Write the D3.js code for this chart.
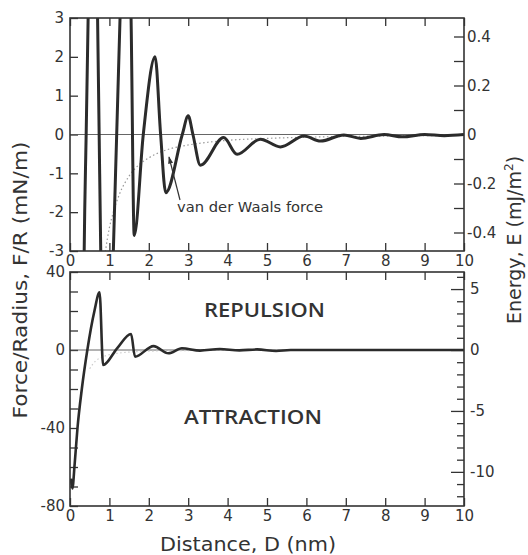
<!DOCTYPE html>
<html>
<head>
<meta charset="UTF-8">
<script src="https://cdn.jsdelivr.net/npm/d3@7"></script>
<style>
  body { margin: 0; background: #fff; }
  svg { display: block; font-family: "DejaVu Sans", sans-serif; }
  .frame { fill: none; stroke: #333; stroke-width: 1.6px; }
  .tick line { stroke: #333; stroke-width: 1.3px; }
  .tick text { fill: #333; font-size: 15px; font-family: "DejaVu Sans", sans-serif; }
  .domain { display: none; }
  .zero { stroke: #555; stroke-width: 0.9px; }
  .force { fill: none; stroke: #2b2b2b; stroke-width: 3px; stroke-linejoin: round; }
  .vdw { fill: none; stroke: #999; stroke-width: 1.2px; stroke-dasharray: 1.5 2.5; }
  .label { fill: #333; font-size: 19px; }
  .region { fill: #333; font-family: "Open Sans", sans-serif; font-size: 19px; font-weight: 600; }
</style>
</head>
<body>
<div id="chart"></div>
<script>
// distance ticks (nm)
const distTicks = [0, 1, 2, 3, 4, 5, 6, 7, 8, 9, 10];

// top panel: oscillatory force F/R (mN/m)
const topD = [0.28, 0.36, 0.41, 0.46, 0.58, 0.70, 0.74, 0.78, 0.94, 1.10, 1.185, 1.27, 1.42, 1.55, 1.63, 1.86, 2.16, 2.30, 2.43, 2.85, 3.0, 3.12, 3.31, 3.9, 4.24, 4.83, 5.34, 5.94, 6.36, 6.95, 7.38, 7.97, 8.44, 9.0, 9.5, 10];
const topF = [-15, -3, 0, 3, 12, 3, 0, -3, -10, -3, 0, 3, 8, 3, -2.6, 0, 2.0, 0, -1.5, 0, 0.48, 0, -0.79, -0.08, -0.51, -0.12, -0.32, -0.04, -0.17, -0.01, -0.10, 0.0, -0.06, 0.0, -0.03, 0];

// van der Waals force (dotted)
const vdwD = [0.5, 0.64, 0.8, 0.9, 1.0, 1.1, 1.25, 1.5, 1.75, 2.0, 2.5, 3.0, 3.5, 4.0, 5.0, 6.0, 7.0, 8.0, 10.0];
const vdwF = [-9.6, -5.8, -3.75, -3.0, -2.4, -2.0, -1.55, -1.07, -0.78, -0.6, -0.38, -0.27, -0.2, -0.15, -0.1, -0.07, -0.05, -0.04, -0.02];

// bottom panel: force F/R (mN/m)
const botD = [0.02, 0.06, 0.12, 0.19, 0.30, 0.44, 0.62, 0.75, 0.84, 1.2, 1.55, 1.65, 2.12, 2.5, 2.84, 3.3, 3.8, 4.3, 4.75, 5.23, 5.6, 10];
const botF = [-66, -71, -58, -40, -20, 0, 20, 29.6, -7.7, 1, 8.2, -3.4, 2.0, -1.7, 0.9, -0.3, 0.5, -0.2, 0.3, -0.5, 0, 0];

// axis ticks
const topForceTicks = [-3, -2, -1, 0, 1, 2, 3];
const topEnergyTicks = [-0.4, -0.3, -0.2, -0.1, 0, 0.1, 0.2, 0.3, 0.4];
const topEnergyLabels = [-0.4, -0.2, 0, 0.2, 0.4];
const botForceTicks = [-80, -70, -60, -50, -40, -30, -20, -10, 0, 10, 20, 30, 40];
const botForceLabels = [-80, -40, 0, 40];
const botEnergyTicks = [-12, -11, -10, -9, -8, -7, -6, -5, -4, -3, -2, -1, 0, 1, 2, 3, 4, 5, 6];
const botEnergyLabels = [-10, -5, 0, 5];

const W = 528, H = 555;
const L = 70, R = 464;
const top1 = 18, bot1 = 251, top2 = 272, bot2 = 506;

const svg = d3.select("#chart").append("svg").attr("width", W).attr("height", H);

const x = d3.scaleLinear().domain([0, 10]).range([L, R]);
const y1 = d3.scaleLinear().domain([-3, 3]).range([bot1, top1]);
const e1 = d3.scaleLinear().domain([-0.4755, 0.4755]).range([bot1, top1]);
const y2 = d3.scaleLinear().domain([-80, 40]).range([bot2, top2]);
const e2 = d3.scaleLinear().domain([-12.8, 6.4]).range([bot2, top2]);

const fmt = d => d === 0 ? "0" : String(d);

// clip paths
const defs = svg.append("defs");
defs.append("clipPath").attr("id", "c1").append("rect")
  .attr("x", L).attr("y", top1).attr("width", R - L).attr("height", bot1 - top1);
defs.append("clipPath").attr("id", "c2").append("rect")
  .attr("x", L).attr("y", top2).attr("width", R - L).attr("height", bot2 - top2);
defs.append("marker").attr("id", "arr").attr("viewBox", "0 0 10 10")
  .attr("refX", 9).attr("refY", 5).attr("markerWidth", 6).attr("markerHeight", 6)
  .attr("orient", "auto").append("path").attr("d", "M0,1.5 L10,5 L0,8.5 Z").attr("fill", "#333");

function xAxes(yTop, yBot) {
  svg.append("g").attr("transform", `translate(0,${yTop})`)
    .call(d3.axisTop(x).tickValues(distTicks).tickSize(-8).tickFormat(""));
  svg.append("g").attr("transform", `translate(0,${yBot})`)
    .call(d3.axisBottom(x).tickValues(distTicks).tickSize(-8).tickPadding(4).tickFormat(fmt));
}

// ---- top panel ----
xAxes(top1, bot1);
svg.append("g").attr("transform", `translate(${L},0)`)
  .call(d3.axisLeft(y1).tickValues(topForceTicks).tickSize(-8).tickPadding(6).tickFormat(fmt));
svg.append("g").attr("transform", `translate(${R},0)`)
  .call(d3.axisRight(e1).tickValues(topEnergyTicks).tickSize(-10).tickPadding(3)
    .tickFormat(d => topEnergyLabels.some(v => Math.abs(v - d) < 1e-9) ? fmt(d) : ""));

const g1 = svg.append("g").attr("clip-path", "url(#c1)");
g1.append("line").attr("class", "zero")
  .attr("x1", L).attr("x2", R).attr("y1", y1(0)).attr("y2", y1(0));
g1.append("path").attr("class", "vdw")
  .attr("d", d3.line().x(d => x(d[0])).y(d => y1(d[1])).curve(d3.curveMonotoneX)(vdwD.map((d, i) => [d, vdwF[i]])));
g1.append("path").attr("class", "force")
  .attr("d", d3.line().x(d => x(d[0])).y(d => y1(d[1])).curve(d3.curveMonotoneX)(topD.map((d, i) => [d, topF[i]])));
svg.append("rect").attr("class", "frame")
  .attr("x", L).attr("y", top1).attr("width", R - L).attr("height", bot1 - top1);

// annotation
svg.append("text").attr("x", 177).attr("y", 212).attr("fill", "#333")
  .attr("textLength", 146).attr("lengthAdjust", "spacingAndGlyphs")
  .style("font-size", "14px").text("van der Waals force");
svg.append("line").attr("x1", 180).attr("y1", 200).attr("x2", 169).attr("y2", 157)
  .attr("stroke", "#333").attr("stroke-width", 1.2).attr("marker-end", "url(#arr)");

// ---- bottom panel ----
xAxes(top2, bot2);
svg.append("g").attr("transform", `translate(${L},0)`)
  .call(d3.axisLeft(y2).tickValues(botForceTicks).tickSize(-8).tickPadding(5)
    .tickFormat(d => botForceLabels.includes(d) ? fmt(d) : ""));
svg.append("g").attr("transform", `translate(${R},0)`)
  .call(d3.axisRight(e2).tickValues(botEnergyTicks).tickSize(-7).tickPadding(6)
    .tickFormat(d => botEnergyLabels.includes(d) ? fmt(d) : ""))
  .call(g => g.selectAll(".tick line").filter(d => botEnergyLabels.includes(d)).attr("x2", -13));

const g2 = svg.append("g").attr("clip-path", "url(#c2)");
g2.append("line").attr("class", "zero")
  .attr("x1", L).attr("x2", R).attr("y1", y2(0)).attr("y2", y2(0));
g2.append("path").attr("class", "vdw").style("stroke", "#ccc")
  .attr("d", d3.line().x(d => x(d[0])).y(d => y2(d[1])).curve(d3.curveMonotoneX)(vdwD.map((d, i) => [d, vdwF[i]])));
g2.append("path").attr("class", "force").style("stroke-width", "2.6px")
  .attr("d", d3.line().x(d => x(d[0])).y(d => y2(d[1])).curve(d3.curveMonotoneX)(botD.map((d, i) => [d, botF[i]])));
svg.append("rect").attr("class", "frame")
  .attr("x", L).attr("y", top2).attr("width", R - L).attr("height", bot2 - top2);

svg.append("text").attr("class", "region").attr("x", 264.5).attr("y", 312)
  .attr("text-anchor", "middle").attr("dominant-baseline", "middle")
  .attr("textLength", 121).attr("lengthAdjust", "spacingAndGlyphs")
  .text("REPULSION");
svg.append("text").attr("class", "region").attr("x", 253).attr("y", 419)
  .attr("text-anchor", "middle").attr("dominant-baseline", "middle")
  .attr("textLength", 138).attr("lengthAdjust", "spacingAndGlyphs")
  .text("ATTRACTION");

// axis titles
svg.append("text").attr("class", "label").attr("x", 248).attr("y", 545)
  .attr("text-anchor", "middle").attr("dominant-baseline", "middle")
  .attr("textLength", 176).attr("lengthAdjust", "spacingAndGlyphs")
  .text("Distance, D  (nm)");
svg.append("text").attr("class", "label")
  .attr("transform", "translate(21,280) rotate(-90)")
  .attr("text-anchor", "middle").attr("dominant-baseline", "middle")
  .attr("textLength", 277).attr("lengthAdjust", "spacingAndGlyphs")
  .text("Force/Radius,  F/R  (mN/m)");
const et = svg.append("text").attr("class", "label")
  .attr("transform", "translate(515,240) rotate(-90)")
  .attr("text-anchor", "middle").attr("dominant-baseline", "middle");
et.append("tspan").text("Energy, E  (mJ/m");
et.append("tspan").attr("dy", -6).style("font-size", "12px").text("2");
et.append("tspan").attr("dy", 6).text(")");
</script>
</body>
</html>
